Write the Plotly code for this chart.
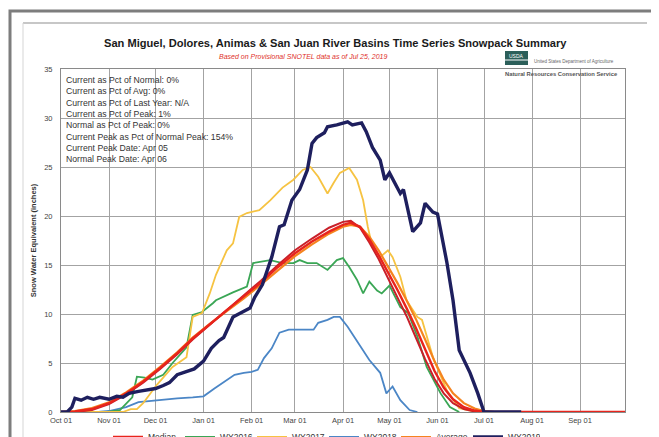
import plotly.graph_objects as go

# ---------------- data ----------------
wy2019_dates = ["2018-10-01","2018-10-05","2018-10-08","2018-10-10","2018-10-14","2018-10-18","2018-10-22","2018-10-26",
                "2018-11-01","2018-11-06","2018-11-10","2018-11-14","2018-11-20","2018-11-26","2018-12-01","2018-12-06",
                "2018-12-10","2018-12-15","2018-12-20","2018-12-26","2019-01-01","2019-01-06","2019-01-11","2019-01-14",
                "2019-01-20","2019-01-31","2019-02-03","2019-02-08","2019-02-14","2019-02-19","2019-02-22","2019-02-27",
                "2019-03-04","2019-03-09","2019-03-12","2019-03-15","2019-03-20","2019-03-22","2019-03-28","2019-04-04",
                "2019-04-07","2019-04-13","2019-04-16","2019-04-20","2019-04-25","2019-04-28","2019-05-01","2019-05-08",
                "2019-05-10","2019-05-16","2019-05-21","2019-05-24","2019-05-29","2019-06-01","2019-06-07","2019-06-11",
                "2019-06-15","2019-06-22","2019-06-27","2019-07-01","2019-07-25"]
wy2019_vals = [0, 0, 0.5, 1.4, 1.2, 1.5, 1.3, 1.5,
               1.3, 1.6, 1.5, 1.9, 2.1, 2.3, 2.4, 2.7,
               3.0, 3.8, 4.1, 4.4, 5.2, 6.5, 7.3, 7.6,
               9.7, 10.6, 11.7, 13.0, 15.8, 18.9, 19.1, 21.6,
               22.7, 24.7, 27.4, 28.0, 28.5, 29.1, 29.3, 29.6,
               29.3, 29.5, 28.6, 27.0, 25.7, 23.7, 24.4, 22.3,
               22.7, 18.4, 19.3, 21.3, 20.4, 20.2, 15.3, 11.4,
               6.3, 4.0, 1.9, 0, 0]

wy2017_dates = ["2018-10-01","2018-11-10","2018-11-15","2018-11-19","2018-11-23","2018-12-02","2018-12-12","2018-12-21",
                "2018-12-25","2018-12-31","2019-01-05","2019-01-09","2019-01-16","2019-01-20","2019-01-24","2019-01-29",
                "2019-02-06","2019-02-13","2019-02-21","2019-02-28","2019-03-06","2019-03-11","2019-03-16","2019-03-22",
                "2019-03-26","2019-03-30","2019-04-05","2019-04-10","2019-04-14","2019-04-17","2019-04-20","2019-04-25",
                "2019-04-30","2019-05-03","2019-05-08","2019-05-12","2019-05-19","2019-05-22","2019-05-29","2019-06-07",
                "2019-06-15","2019-06-26"]
wy2017_vals = [0, 0, 0.3, 0.3, 0.9, 2.8, 4.6, 5.6,
               9.7, 10.1, 12.1, 14.0, 16.5, 17.2, 19.9, 20.3,
               20.6, 21.6, 22.9, 23.7, 24.7, 25.0, 24.0, 22.3,
               23.4, 24.4, 24.9, 23.7, 21.6, 18.9, 16.8, 15.8,
               16.5, 15.8, 13.8, 11.4, 9.7, 9.4, 5.6, 2.2,
               0.4, 0]

wy2016_dates = ["2018-10-01","2018-10-31","2018-11-08","2018-11-16","2018-11-19","2018-11-24","2018-11-29","2018-12-06",
                "2018-12-12","2018-12-21","2018-12-25","2018-12-31","2019-01-07","2019-01-09","2019-01-20","2019-01-29",
                "2019-02-02","2019-02-06","2019-02-13","2019-02-21","2019-02-28","2019-03-04","2019-03-09","2019-03-15",
                "2019-03-22","2019-03-28","2019-04-01","2019-04-05","2019-04-10","2019-04-14","2019-04-18","2019-04-23",
                "2019-04-26","2019-05-01","2019-05-08","2019-05-13","2019-05-19","2019-05-25","2019-06-03","2019-06-09",
                "2019-06-15"]
wy2016_vals = [0, 0, 0.2, 1.5, 3.6, 3.5, 3.3, 3.8,
               5.0, 6.6, 9.9, 10.2, 11.1, 11.4, 12.2, 12.8,
               15.2, 15.3, 15.5, 15.2, 15.2, 15.5, 15.2, 15.2,
               14.5, 15.5, 15.7, 14.8, 13.5, 12.1, 13.3, 12.4,
               12.1, 12.9, 10.7, 10.1, 7.7, 4.6, 1.9, 0.5,
               0]

wy2018_dates = ["2018-10-01","2018-10-25","2018-11-01","2018-11-12","2018-11-20","2018-12-01","2018-12-15","2018-12-25",
                "2019-01-01","2019-01-08","2019-01-15","2019-01-21","2019-01-27","2019-02-01","2019-02-05","2019-02-09",
                "2019-02-14","2019-02-19","2019-02-25","2019-03-06","2019-03-13","2019-03-16","2019-03-22","2019-03-26",
                "2019-03-30","2019-04-04","2019-04-10","2019-04-14","2019-04-18","2019-04-25","2019-04-29","2019-05-03",
                "2019-05-08","2019-05-14","2019-05-19"]
wy2018_vals = [0, 0, 0.1, 0.5, 1.0, 1.2, 1.4, 1.5,
               1.6, 2.4, 3.2, 3.8, 4.0, 4.1, 4.3, 5.5,
               6.5, 8.1, 8.4, 8.4, 8.4, 9.1, 9.4, 9.7,
               9.7, 8.7, 7.3, 6.3, 5.3, 4.0, 1.9, 2.6,
               1.2, 0.2, 0]

normal_dates = ["2018-10-01","2018-10-10","2018-10-21","2018-11-01","2018-11-12","2018-11-23","2018-12-04","2018-12-15",
                "2018-12-25","2019-01-05","2019-01-16","2019-01-27","2019-02-07","2019-02-18","2019-03-01","2019-03-12",
                "2019-03-23","2019-04-01","2019-04-06","2019-04-12","2019-04-18","2019-04-24","2019-04-30","2019-05-06",
                "2019-05-12","2019-05-18","2019-05-24","2019-05-30","2019-06-05","2019-06-11","2019-06-18","2019-06-25",
                "2019-07-01","2019-07-08","2019-09-30"]
median_vals = [0, 0.05, 0.3, 0.9, 1.9, 3.1, 4.5, 6.0,
               7.5, 9.0, 10.4, 11.8, 13.2, 14.8, 16.2, 17.4,
               18.4, 19.1, 19.3, 18.9, 17.6, 16.0, 14.3, 12.5,
               10.6, 8.6, 6.4, 4.2, 2.5, 1.3, 0.5, 0.15,
               0, 0, 0]
average_vals = [0, 0.1, 0.4, 1.0, 2.0, 3.2, 4.6, 6.1,
                7.6, 9.0, 10.3, 11.6, 13.0, 14.5, 15.9, 17.1,
                18.2, 18.9, 19.1, 18.9, 17.9, 16.5, 14.9, 13.2,
                11.4, 9.5, 7.4, 5.2, 3.3, 1.9, 0.9, 0.35,
                0.1, 0, 0]
normal2_vals = [0, 0, 0.2, 0.8, 1.8, 3.0, 4.4, 5.9,
                7.4, 8.9, 10.4, 11.9, 13.4, 15.0, 16.5, 17.7,
                18.8, 19.4, 19.5, 18.8, 17.3, 15.6, 13.7, 11.8,
                9.8, 7.6, 5.4, 3.4, 1.9, 0.9, 0.3, 0.05,
                0, 0, 0]

tick_dates = ["2018-10-01","2018-11-01","2018-12-01","2019-01-01","2019-02-01","2019-03-01",
              "2019-04-01","2019-05-01","2019-06-01","2019-07-01","2019-08-01","2019-09-01"]
tick_labels = ["Oct 01","Nov 01","Dec 01","Jan 01","Feb 01","Mar 01",
               "Apr 01","May 01","Jun 01","Jul 01","Aug 01","Sep 01"]
y_ticks = [0, 5, 10, 15, 20, 25, 30, 35]

stats_lines = ["Current as Pct of Normal: 0%",
               "Current as Pct of Avg: 0%",
               "Current as Pct of Last Year: N/A",
               "Current as Pct of Peak: 1%",
               "Normal as Pct of Peak: 0%",
               "Current Peak as Pct of Normal Peak: 154%",
               "Current Peak Date: Apr 05",
               "Normal Peak Date: Apr 06"]

title_text = "San Miguel, Dolores, Animas & San Juan River Basins Time Series Snowpack Summary"
subtitle_text = "Based on Provisional SNOTEL data as of Jul 25, 2019"
ytitle_text = "Snow Water Equivalent (inches)"

# ---------------- figure ----------------
# The page body adds an 8px offset; the figure is sized/placed to compensate.
OFF = 8
W, H = 659 - OFF, 437 - OFF
L, R, T, B = 61, 625, 69, 412          # plot-area edges in screen pixels
FONT = "Liberation Sans, Arial, sans-serif"

def px(x):
    return (x - L) / (R - L)

def py(y):
    return (B - y) / (B - T)

fig = go.Figure()

def add_line(name, xs, ys, color, width, rank, show=True):
    fig.add_trace(go.Scatter(x=xs, y=ys, mode="lines", name=name,
                             line=dict(color=color, width=width),
                             legendrank=rank, showlegend=show))

add_line("WY2018", wy2018_dates, wy2018_vals, "#4b86c6", 1.8, 4)
add_line("WY2016", wy2016_dates, wy2016_vals, "#3aa655", 1.8, 2)
add_line("WY2017", wy2017_dates, wy2017_vals, "#f6c342", 1.8, 3)
add_line("Average", normal_dates, average_vals, "#f5841f", 2.2, 5)
add_line("Median ('81-'10)", normal_dates, normal2_vals, "#c8202a", 2.0, 7, show=False)
add_line("Median", normal_dates, median_vals, "#e8241c", 2.4, 1)
add_line("WY2019", wy2019_dates, wy2019_vals, "#1e1f5e", 3.4, 6)

fig.update_xaxes(range=["2018-10-01", "2019-09-30"], tickvals=tick_dates, ticktext=tick_labels,
                 showgrid=True, gridcolor="#a3a3a3", gridwidth=1, zeroline=False,
                 showline=True, linecolor="#8a8a8a", linewidth=1, mirror=True,
                 ticks="", ticklabelstandoff=1, tickfont=dict(family=FONT, size=7.5, color="#444"))
fig.update_yaxes(range=[0, 35], tickvals=y_ticks, showgrid=True, gridcolor="#a3a3a3", gridwidth=1,
                 zeroline=False, showline=True, linecolor="#8a8a8a", linewidth=1, mirror=True,
                 ticks="", ticklabelstandoff=6, tickfont=dict(family=FONT, size=7.5, color="#444"),
                 title=dict(text="<b>" + ytitle_text + "</b>", font=dict(family=FONT, size=7.5, color="#333"),
                            standoff=6))

annotations = [
    dict(text="<b>" + title_text + "</b>", x=px(335), y=py(43), xref="paper", yref="paper",
         showarrow=False, font=dict(family=FONT, size=11.1, color="#1a1a1a"), xanchor="center", yanchor="middle"),
    dict(text="<i>" + subtitle_text + "</i>", x=px(303), y=py(57), xref="paper", yref="paper",
         showarrow=False, font=dict(family=FONT, size=7, color="#e0302a"), xanchor="center", yanchor="middle"),
    dict(text="<br>".join(stats_lines), x=px(64), y=py(73), xref="paper", yref="paper",
         showarrow=False, align="left", xanchor="left", yanchor="top",
         font=dict(family=FONT, size=8.7, color="#333")),
    dict(text="USDA", x=px(516.5), y=py(56), xref="paper", yref="paper", showarrow=False,
         font=dict(family=FONT, size=5, color="#ffffff"), xanchor="center", yanchor="middle"),
    dict(text="United States Department of Agriculture", x=px(532), y=py(62), xref="paper", yref="paper",
         showarrow=False, font=dict(family=FONT, size=4.5, color="#666"), xanchor="left", yanchor="middle"),
    dict(text="<b>Natural Resources Conservation Service</b>", x=px(503), y=py(74), xref="paper", yref="paper",
         showarrow=False, font=dict(family=FONT, size=5.8, color="#555"), xanchor="left", yanchor="middle"),
]

shapes = [
    # outer gray frame
    dict(type="rect", xref="paper", yref="paper", x0=px(10), x1=px(654), y0=py(470), y1=py(11),
         line=dict(color="#7d7d7d", width=3), layer="below"),
    # inner page edge
    dict(type="line", xref="paper", yref="paper", x0=px(23), x1=px(647), y0=py(23), y1=py(23),
         line=dict(color="#b5b5b5", width=1.5)),
    dict(type="line", xref="paper", yref="paper", x0=px(23), x1=px(23), y0=py(23), y1=py(470),
         line=dict(color="#d5d5d5", width=1)),
    # USDA logo block
    dict(type="rect", xref="paper", yref="paper", x0=px(505), x1=px(528), y0=py(65), y1=py(51),
         line=dict(width=0), fillcolor="#2c5f5a"),
    dict(type="line", xref="paper", yref="paper", x0=px(505), x1=px(528), y0=py(60), y1=py(60),
         line=dict(color="#ffffff", width=1)),
]

fig.update_layout(
    width=W, height=H,
    margin=dict(l=L - OFF, r=W - (R - OFF), t=T - OFF, b=H - (B - OFF), autoexpand=False),
    paper_bgcolor="#ffffff", plot_bgcolor="#ffffff",
    showlegend=True,
    legend=dict(orientation="h", x=px(108), y=py(437), xanchor="left", yanchor="middle",
                font=dict(family=FONT, size=8.5, color="#333"), bgcolor="rgba(0,0,0,0)",
                itemwidth=30, tracegroupgap=0, entrywidth=27, entrywidthmode="pixels"),
    annotations=annotations,
    shapes=shapes,
)

fig.write_html("out.html")
